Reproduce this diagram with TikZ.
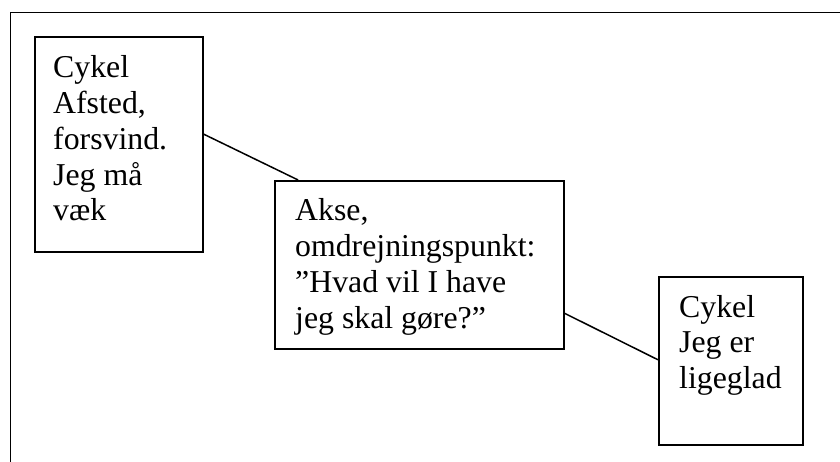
\documentclass[tikz,border=0pt]{standalone}
\usepackage{fontspec}
\setmainfont{Liberation Serif}
\usetikzlibrary{calc}
\begin{document}
\begin{tikzpicture}[x=1pt,y=-1pt,
  box/.style={draw, line width=1.6pt, rectangle, inner sep=0pt, anchor=north west},
  txt/.style={anchor=base west, inner sep=0pt,
    font=\fontsize{31.8}{35.7}\selectfont},
  link/.style={line width=1.5pt}]
\useasboundingbox (0,0) rectangle (840,462);
\clip (0,0) rectangle (840,462);
% outer frame, running off the page at right and bottom
\draw[line width=1.5pt] (850,12.5) -- (10.3,12.5) -- (10.3,475);

% boxes
\node[box, minimum width=168pt, minimum height=215pt] (b1) at (34,36) {};
\node[box, minimum width=289pt, minimum height=168pt] (b2) at (274,180) {};
\node[box, minimum width=144pt, minimum height=168pt] (b3) at (658,276) {};

% texts
\node[txt] (t1) at (53,78) {\begin{tabular}[t]{@{}l@{}}Cykel\\Afsted,\\forsvind.\\Jeg må\\væk\end{tabular}};
\node[txt] (t2) at (295,221) {\begin{tabular}[t]{@{}l@{}}Akse,\\omdrejningspunkt:\\”Hvad vil I have\\jeg skal gøre?”\end{tabular}};
\node[txt] (t3) at (679,317) {\begin{tabular}[t]{@{}l@{}}Cykel\\Jeg er\\ligeglad\end{tabular}};

% connectors
\draw[link] ($(b1.north east)!0.453!(b1.south east)$) -- ($(b2.north west)!0.083!(b2.north east)$);
\draw[link] ($(b2.north east)!0.786!(b2.south east)$) -- ($(b3.north west)!0.494!(b3.south west)$);
\end{tikzpicture}
\end{document}
